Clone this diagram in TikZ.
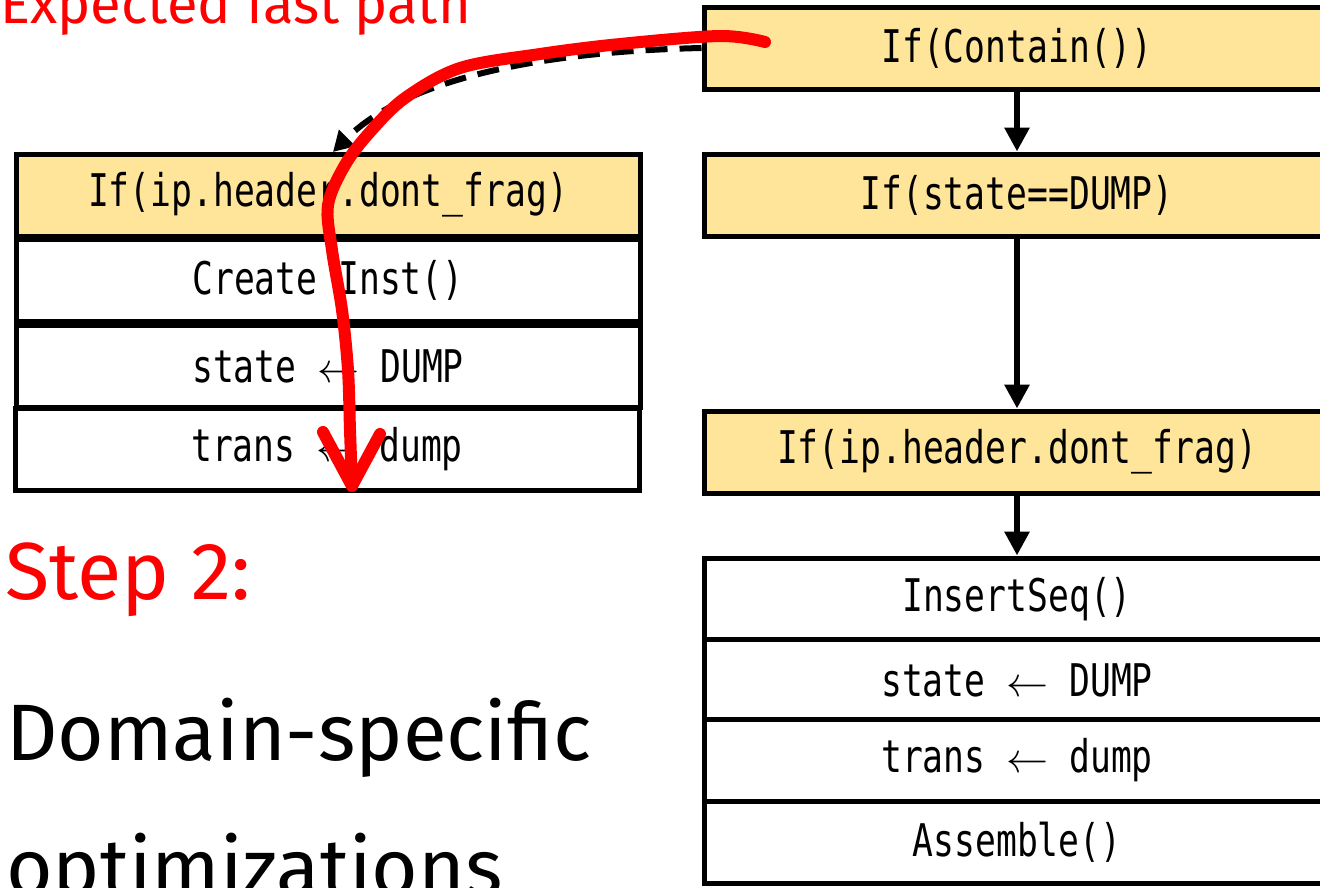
\RequirePackage{fix-cm}
\documentclass[tikz,border=0pt]{standalone}
\usepackage{fontspec}
\setmainfont{Fira Sans}
\newfontfamily\codefont[FakeStretch=0.77]{DejaVu Sans Mono}
\usetikzlibrary{arrows.meta}
\definecolor{boxyellow}{RGB}{255,229,153}
\newcommand{\larr}{{\fontsize{42}{42}\selectfont$\leftarrow$}}
\tikzset{
  codebox/.style={draw=black, line width=5pt, rectangle, inner sep=0pt,
    minimum width=#1, minimum height=82pt, font=\codefont\fontsize{45}{50}\selectfont, text=black},
  codebox/.default=626pt,
  ifbox/.style={codebox=#1, fill=boxyellow},
  ifbox/.default=626pt,
  plainbox/.style={codebox=#1, fill=white},
  plainbox/.default=626pt,
  flow/.style={draw=black, line width=6pt, -{Triangle[length=24pt,width=24pt]}},
  dashflow/.style={draw=black, line width=6pt, dash pattern=on 22pt off 12pt, -{Triangle[length=20pt,width=22pt]}},
  fastpath/.style={draw=red, line width=12pt, line cap=round, line join=round},
  redlabel/.style={text=red, inner sep=0pt, anchor=base west},
  blacklabel/.style={text=black, inner sep=0pt, anchor=base west}
}
\begin{document}
\begin{tikzpicture}[x=1pt,y=-1pt]
\useasboundingbox (0,0) rectangle (1320,887);
% right column
\node[ifbox] (c1) at (1017,48) {If(Contain())};
\node[ifbox] (c2) at (1017,195) {If(state==DUMP)};
\node[ifbox] (c3) at (1017,452) {If(ip.header.dont\_frag)};
\node[plainbox] (s1) at (1017,599) {InsertSeq()};
\node[plainbox] (s2) at (1017,680) {state \larr{} DUMP};
\node[plainbox] (s3) at (1017,760) {trans \larr{} dump};
\node[plainbox] (s4) at (1017,842) {Assemble()};
% left column
\node[ifbox=624pt] (l1) at (328,195) {If(ip.header.dont\_frag)};
\node[plainbox=624pt] (l2) at (328,280) {Create Inst()};
\node[plainbox=624pt] (l3) at (328,366) {state \larr{} DUMP};
\node[plainbox=624pt] (l4) at (327,449) {trans \larr{} dump};
% labels
\node[redlabel, font=\fontsize{56}{62}\selectfont] (t0) at (0,23) {Expected fast path};
\node[redlabel, font=\fontsize{81}{90}\selectfont] (t1) at (5,599) {Step 2:};
\node[blacklabel, font=\fontsize{80}{90}\selectfont] (t2) at (6,760) {Domain-specific};
\node[blacklabel, font=\fontsize{80}{90}\selectfont] (t3) at (6,895) {optimizations};
% flow arrows
\draw[flow] (c1.south) -- (c2.north);
\draw[flow] (c2.south) -- (c3.north);
\draw[flow] (c3.south) -- (s1.north);
% dashed arrow
\coordinate (tipL) at (333,152);
\draw[dashflow] (c1.west) .. controls (520,52) and (400,85) .. (tipL);
% red fast path
\coordinate (rs) at (765,42);
\coordinate (re) at (352,486);
\draw[fastpath] plot[smooth, tension=0.55] coordinates {(765,42) (720,36) (620,44) (540,54) (460,68) (405,98) (370,132) (345,165) (328,205) (332,250) (342,310) (348,370) (350,430) (352,486)};
\draw[fastpath] (323,432) -- (re) -- (380,434);
\end{tikzpicture}
\end{document}
